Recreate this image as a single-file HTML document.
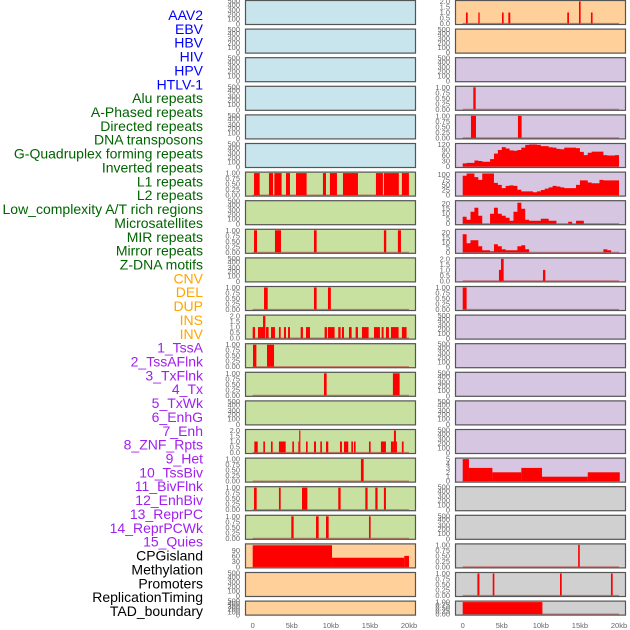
<!DOCTYPE html>
<html><head><meta charset="utf-8"><style>
body{margin:0;background:#fff;}
svg{display:block;font-family:"Liberation Sans",sans-serif;}
</style></head><body>
<svg id="chart" width="630" height="630" viewBox="0 0 630 630" xmlns="http://www.w3.org/2000/svg"></svg>
<script>
// ---- data ----
const rowLabels = ["AAV2","EBV","HBV","HIV","HPV","HTLV-1","Alu repeats","A-Phased repeats","Directed repeats","DNA transposons","G-Quadruplex forming repeats","Inverted repeats","L1 repeats","L2 repeats","Low_complexity A/T rich regions","Microsatellites","MIR repeats","Mirror repeats","Z-DNA motifs","CNV","DEL","DUP","INS","INV","1_TssA","2_TssAFlnk","3_TxFlnk","4_Tx","5_TxWk","6_EnhG","7_Enh","8_ZNF_Rpts","9_Het","10_TssBiv","11_BivFlnk","12_EnhBiv","13_ReprPC","14_ReprPCWk","15_Quies","CPGisland","Methylation","Promoters","ReplicationTiming","TAD_boundary"];
const labelColors = ["#0000ff","#0000ff","#0000ff","#0000ff","#0000ff","#0000ff","#006400","#006400","#006400","#006400","#006400","#006400","#006400","#006400","#006400","#006400","#006400","#006400","#006400","#ffa500","#ffa500","#ffa500","#ffa500","#ffa500","#a020f0","#a020f0","#a020f0","#a020f0","#a020f0","#a020f0","#a020f0","#a020f0","#a020f0","#a020f0","#a020f0","#a020f0","#a020f0","#a020f0","#a020f0","#000000","#000000","#000000","#000000","#000000"];
const xTickValues = [0,5,10,15,20];
const xTickLabels = ["0","5kb","10kb","15kb","20kb"];
const ticksEmpty = ["0","100","200","300","400","500"];
const ticksUnit = ["0.00","0.25","0.50","0.75","1.00"];
const ticksTwo = ["0.0","0.5","1.0","1.5","2.0"];
const ticks120 = ["0","30","60","90","120"];
const ticks90 = ["0","30","60","90"];
const ticks100 = ["0","25","50","75","100"];
const ticks20 = ["0","5","10","15","20"];
const ticks5 = ["0","1","2","3","4","5"];
// bars: [startKb, endKb, value]
const barsL6 = [[0.17,0.89,1],[2.08,2.6,1],[2.77,3.7,1],[4.26,4.77,1],[5.54,6.9,1],[8.99,9.38,1],[9.88,10.78,1],[11.55,13.47,1],[15.77,16.66,1],[16.79,18.7,1],[19.09,19.99,1]];
const barsL8 = [[0.17,0.55,1],[2.85,3.62,1],[7.84,8.18,1],[16.79,17.09,1],[18.58,18.97,1]];
const barsL10 = [[1.45,1.92,1],[7.84,8.18,1],[9.63,10.0,1]];
const barsL11 = [[0,0.3,1],[0.68,0.94,1],[0.94,1.32,1],[1.32,1.62,2],[1.7,2.04,1],[2.34,2.85,1],[3.36,3.58,1],[4.0,4.26,1],[4.52,4.77,1],[6.14,6.43,1],[6.82,7.33,1],[9.2,9.5,1],[9.63,10.48,1],[10.95,11.25,1],[11.42,11.68,1],[12.32,12.66,1],[13.17,13.47,1],[13.98,14.83,1],[15.52,16.28,1],[16.5,16.75,1],[17.05,17.43,1],[17.69,18.67,1],[19.09,19.69,1]];
const barsL12 = [[0.04,0.47,1],[1.83,2.73,1]];
const barsL13 = [[9.12,9.46,1],[17.94,18.8,1]];
const barsL15 = [[0.21,0.64,1],[1.36,1.57,1],[2.34,2.55,1],[3.36,4.22,1],[5.07,5.28,1],[5.84,5.95,1],[5.95,6.1,2],[6.82,7.03,1],[7.84,8.1,1],[8.65,8.86,1],[9.38,9.67,1],[11.17,11.42,1],[11.68,12.23,1],[12.62,12.83,1],[12.96,13.17,1],[14.88,15.09,1],[16.41,17.05,1],[17.69,18.07,1],[18.07,18.33,2],[18.33,18.41,1],[19.09,19.31,1]];
const barsL16 = [[13.85,14.2,1]];
const barsL17 = [[0.17,0.51,1],[3.36,3.58,1],[6.31,6.99,1],[10.95,11.25,1],[14.41,14.7,1],[15.69,15.98,1],[16.79,17.05,1]];
const barsL18 = [[4.94,5.24,1],[8.1,8.44,1],[9.38,9.72,1],[14.88,15.09,1]];
const barsL19 = [[0,10.15,118],[10.15,19.4,50],[19.4,20,60]];
const barsR0 = [[0.42,0.64,1],[2.0,2.17,1],[5.03,5.24,1],[5.84,6.09,1],[13.38,13.6,1],[14.88,15.09,2],[16.41,16.62,1]];
const barsR3 = [[1.36,1.66,1]];
const barsR4 = [[1.06,1.7,1],[7.07,7.54,1]];
const barsR9 = [[4.64,4.9,1],[4.9,5.24,2],[10.27,10.57,1]];
const barsR10 = [[0,0.5,1]];
const barsR16 = [[0,0.8,5],[0.8,3.8,3],[3.8,7.5,2],[7.5,10.15,3],[10.15,16,1],[16,20.1,2]];
const barsR19 = [[14.77,14.98,1]];
const barsR20 = [[1.88,2.14,1],[3.84,4.05,1],[12.45,12.67,1],[18.97,19.19,1]];
const barsR21 = [[0,10.2,1]];
// area series, 0.5kb steps
const areaR5 = [17,20,20,33,30,26,26,40,70,90,106,98,88,86,90,103,118,120,120,118,111,111,105,103,96,94,103,103,103,100,80,62,75,81,81,81,62,60,60,62];
const areaR6 = [95,106,106,88,75,106,106,106,60,50,34,45,48,45,26,18,18,18,14,18,25,32,38,45,42,38,34,34,34,50,72,72,62,58,58,75,72,72,72,72];
const areaR7 = [7,4,12,16,8,0,0,10,16,10,8,6,3,12,21,15,4,3,3,3,5,5,3,3,0,0,0,2,0,3,3,0,0,0,0,0,0,0,0,0];
const areaR8 = [18,9,12,12,6,2,2,1,8,6,3,2,2,2,6,7,3,0,0,0,0,0,0,0,0,0,0,0,0,0,0,0,0,0,0,0,3,2,0,0];

const BLUE="#c8e4ec", GREEN="#c8e0a0", ORANGE="#ffd09a", PURPLE="#d6c6e2", GRAY="#d0d0d0";
const leftBg = [BLUE,BLUE,BLUE,BLUE,BLUE,BLUE,GREEN,GREEN,GREEN,GREEN,GREEN,GREEN,GREEN,GREEN,GREEN,GREEN,GREEN,GREEN,GREEN,ORANGE,ORANGE,ORANGE];
const rightBg = [ORANGE,ORANGE,PURPLE,PURPLE,PURPLE,PURPLE,PURPLE,PURPLE,PURPLE,PURPLE,PURPLE,PURPLE,PURPLE,PURPLE,PURPLE,PURPLE,PURPLE,GRAY,GRAY,GRAY,GRAY,GRAY];

const E={bars:null,max:500,ticks:ticksEmpty,empty:true};
function B(b,max,t){return {bars:b,max:max,ticks:t};}
function A(a,max,t){return {area:a,max:max,ticks:t};}
const leftSpecs=[E,E,E,E,E,E,B(barsL6,1,ticksUnit),E,B(barsL8,1,ticksUnit),E,B(barsL10,1,ticksUnit),B(barsL11,2,ticksTwo),B(barsL12,1,ticksUnit),B(barsL13,1,ticksUnit),E,B(barsL15,2,ticksTwo),B(barsL16,1,ticksUnit),B(barsL17,1,ticksUnit),B(barsL18,1,ticksUnit),B(barsL19,120,ticks90),E,E];
const rightSpecs=[B(barsR0,2,ticksTwo),E,E,B(barsR3,1,ticksUnit),B(barsR4,1,ticksUnit),A(areaR5,120,ticks120),A(areaR6,108,ticks100),A(areaR7,22,ticks20),A(areaR8,22,ticks20),B(barsR9,2,ticksTwo),B(barsR10,1,ticksUnit),E,E,E,E,E,B(barsR16,5,ticks5),E,E,B(barsR19,1,ticksUnit),B(barsR20,1,ticksUnit),B(barsR21,1,ticksUnit)];

// ---- drawing ----
const svg=document.getElementById('chart');
const NS="http://www.w3.org/2000/svg";
function el(tag,attrs,parent){const e=document.createElementNS(NS,tag);for(const k in attrs)e.setAttribute(k,attrs[k]);(parent||svg).appendChild(e);return e;}
const cols=[{px:245,pw:171,x0:252.7,x20:409},{px:455,pw:171,x0:462.7,x20:619}];
function xScale(c,kb){return c.x0+(c.x20-c.x0)*kb/20;}
function rowTop(i){return i*28.6;}
function rowH(i){return i===21?15:25;}

rowLabels.forEach((t,j)=>{
  const tx=el('text',{x:203,y:15+13.86*j+5,'text-anchor':'end','font-size':14,fill:labelColors[j]});
  tx.textContent=t;
  
  
});

function drawPanel(c,ci,i,spec,bg){
  const top=rowTop(i),h=rowH(i),bot=top+h;
  const g=el('g',{});
  
  
  el('rect',{x:c.px,y:top,width:c.pw,height:h,fill:bg},g);
  const yS=v=>bot-1.5-(v/spec.max)*(h-3);
  spec.ticks.forEach((t,k)=>{
    let yy;
    if(spec.empty){const fr=[0.96,0.75,0.57,0.4,0.19,0.04];yy=top+fr[k]*h;}
    else yy=yS(parseFloat(t));
    const tx=el('text',{x:c.px-5,y:yy+2.5,'text-anchor':'end','font-size':7.5,fill:'#666'},g);
    tx.textContent=t;
    
    
  });
  if(!spec.empty){
    el('line',{x1:xScale(c,0),x2:xScale(c,20),y1:bot-1.5,y2:bot-1.5,stroke:'#c05050','stroke-width':1.2,opacity:0.7},g);
  }
  if(spec.bars){
    spec.bars.forEach(b=>{
      const x1=xScale(c,b[0]),x2=xScale(c,b[1]);
      const r=el('rect',{x:x1,y:yS(b[2]),width:Math.max(1,x2-x1),height:bot-1.5-yS(b[2]),fill:'#ff0000'},g);
      
      
    });
  }
  if(spec.area){
    let d='M'+xScale(c,0)+','+(bot-1.5);
    spec.area.forEach((v,k)=>{
      const y=yS(Math.min(v,spec.max));
      d+=' L'+xScale(c,k*0.5)+','+y+' L'+xScale(c,(k+1)*0.5)+','+y;
    });
    d+=' L'+xScale(c,20)+','+(bot-1.5)+' Z';
    const p=el('path',{d:d,fill:'#ff0000'},g);
    
    
  }
  el('rect',{x:c.px+0.5,y:top+0.5,width:c.pw-1,height:h-1,fill:'none',stroke:'#555','stroke-width':1.2},g);
}
leftSpecs.forEach((s,i)=>drawPanel(cols[0],0,i,s,leftBg[i]));
rightSpecs.forEach((s,i)=>drawPanel(cols[1],1,i,s,rightBg[i]));

cols.forEach((c,ci)=>{
  xTickValues.forEach((v,k)=>{
    const tx=el('text',{x:xScale(c,v),y:628,'text-anchor':'middle','font-size':7.5,fill:'#666'});
    tx.textContent=xTickLabels[k];
    
    
  });
});
</script>
</body></html>
